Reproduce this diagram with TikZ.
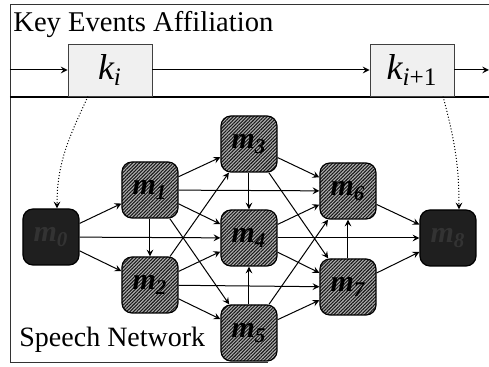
\documentclass[tikz,border=0pt]{standalone}
\usepackage{fontspec}
\setmainfont{Liberation Serif}
\usepackage{tikz}
\usetikzlibrary{positioning, arrows, shapes, patterns.meta}
\tikzstyle{event} = [rectangle, minimum width=42pt, minimum height=26pt, text centered, draw=black!75, line width=0.4pt, fill=gray!12, inner sep=0pt]
\tikzstyle{word} = [rectangle, rounded corners=5pt, minimum width=28pt, minimum height=28pt, text centered, draw=black, line width=0.6pt, preaction={fill=gray!60}, pattern={Lines[angle=45,distance=1.2pt,line width=0.55pt]}, pattern color=black!90, inner sep=0pt]
\tikzstyle{endword} = [rectangle, rounded corners=5pt, minimum width=28pt, minimum height=28pt, text centered, draw=black, line width=0.6pt, fill=black!88, text=black!80, inner sep=0pt]
\tikzstyle{arrow} = [->,>=stealth, line width=0.5pt]
\tikzstyle{link} = [densely dotted, ->, >=stealth, line width=0.5pt]
\newcommand{\mlab}[1]{\fontsize{15}{15}\selectfont\bfseries\itshape m\textsubscript{#1}}

\begin{document}
\begin{tikzpicture}[x=0.5pt, y=-0.5pt, node distance=49.5pt]
        \useasboundingbox (0,0) rectangle (489,367);
        % frame
        \draw [line width=0.4pt, black!80] (489,4) -- (10,4) -- (10,362) -- (268,362);
        \draw [line width=0.7pt] (10,97) -- (489,97);
        \node (title) [anchor=base west, inner sep=0pt, font=\fontsize{14.3}{16}\selectfont] at (13,32) {Key Events Affiliation};
        \node (speech) [anchor=base west, inner sep=0pt, font=\fontsize{14}{16}\selectfont] at (19,347) {Speech Network};

        % key events
        \coordinate (start) at (10,70);
        \coordinate (stop) at (489,70);
        \node (ki) [event] at (110,70) {\fontsize{18}{18}\selectfont\itshape k\textsubscript{i}};
        \node (kn) [event] at (412,70) {\fontsize{18}{18}\selectfont\itshape k\textsubscript{i\upshape+1}};
        \draw [arrow] (start) -- (ki);
        \draw [arrow] (ki) -- (kn);
        \draw [arrow] (kn) -- (stop);

        % speech network
        \node (m0) [endword] at (51,237) {\mlab{0}};
        \node (m1) [word, right of=m0, yshift=23.5pt] {\mlab{1}};
        \node (m2) [word, right of=m0, yshift=-24pt] {\mlab{2}};
        \node (m3) [word, right of=m1, yshift=23pt] {\mlab{3}};
        \node (m4) [word, right of=m1, yshift=-24pt] {\mlab{4}};
        \node (m5) [word, right of=m2, yshift=-24pt] {\mlab{5}};
        \node (m6) [word, right of=m3, yshift=-23.5pt] {\mlab{6}};
        \node (m7) [word, right of=m5, yshift=23pt] {\mlab{7}};
        \node (m8) [endword, right of=m4, xshift=50pt] {\mlab{8}};

        \draw [arrow] (m0) -- (m1);
        \draw [arrow] (m0) -- (m2);
        \draw [arrow] (m0) -- (m4);
        \draw [arrow] (m1) -- (m2);
        \draw [arrow] (m1) -- (m3);
        \draw [arrow] (m1) -- (m4);
        \draw [arrow] (m1) -- (m5);
        \draw [arrow] (m1) -- (m6);
        \draw [arrow] (m2) -- (m3);
        \draw [arrow] (m2) -- (m4);
        \draw [arrow] (m2) -- (m5);
        \draw [arrow] (m2) -- (m7);
        \draw [arrow] (m3) -- (m4);
        \draw [arrow] (m3) -- (m6);
        \draw [arrow] (m3) -- (m7);
        \draw [arrow] (m5) -- (m4);
        \draw [arrow] (m4) -- (m6);
        \draw [arrow] (m4) -- (m7);
        \draw [arrow] (m4) -- (m8);
        \draw [arrow] (m5) -- (m6);
        \draw [arrow] (m5) -- (m7);
        \draw [arrow] (m7) -- (m6);
        \draw [arrow] (m6) -- (m8);
        \draw [arrow] (m7) -- (m8);

        % affiliation
        \draw [link] ([xshift=-11pt]ki.south) to[out=-115, in=90] ([xshift=3pt]m0.north);
        \draw [link] ([xshift=15.5pt]kn.south) to[out=-75, in=90] ([xshift=5.5pt]m8.north);
\end{tikzpicture}
\end{document}
